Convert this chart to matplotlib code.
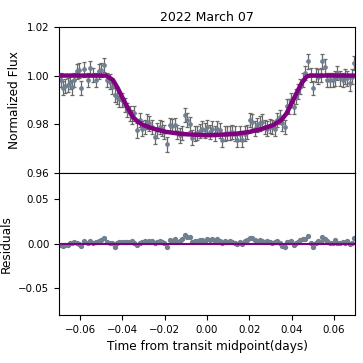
import numpy as np
import matplotlib
matplotlib.use("Agg")
import matplotlib.pyplot as plt

title = "2022 March 07"

time = [-0.0690, -0.0679, -0.0670, -0.0658, -0.0647, -0.0638, -0.0627, -0.0616, -0.0606, -0.0595,
        -0.0580, -0.0564, -0.0551, -0.0537, -0.0524, -0.0512, -0.0501, -0.0485, -0.0474, -0.0461,
        -0.0448, -0.0437, -0.0426, -0.0414, -0.0401, -0.0390, -0.0379, -0.0366, -0.0355, -0.0343,
        -0.0330, -0.0319, -0.0306, -0.0295, -0.0283, -0.0272, -0.0259, -0.0248, -0.0237, -0.0224,
        -0.0212, -0.0201, -0.0189, -0.0177, -0.0164, -0.0153, -0.0141, -0.0129, -0.0117, -0.0106,
        -0.0095, -0.0082, -0.0071, -0.0058, -0.0047, -0.0035, -0.0024, -0.0011, 0.0000, 0.0013,
        0.0024, 0.0036, 0.0047, 0.0060, 0.0073, 0.0084, 0.0095, 0.0107, 0.0118, 0.0131,
        0.0142, 0.0155, 0.0167, 0.0178, 0.0189, 0.0202, 0.0215, 0.0226, 0.0237, 0.0249,
        0.0262, 0.0273, 0.0284, 0.0297, 0.0309, 0.0321, 0.0332, 0.0344, 0.0357, 0.0368,
        0.0379, 0.0388, 0.0399, 0.0411, 0.0420, 0.0431, 0.0442, 0.0455, 0.0463, 0.0478,
        0.0490, 0.0502, 0.0515, 0.0526, 0.0537, 0.0546, 0.0557, 0.0568, 0.0581, 0.0594,
        0.0605, 0.0616, 0.0628, 0.0641, 0.0652, 0.0663, 0.0676, 0.0688, 0.0696]

flux = [0.9982, 0.9948, 0.9957, 0.9961, 0.9975, 0.9952, 0.9982, 1.0017, 1.0021, 0.9948,
        1.0026, 0.9982, 1.0030, 1.0003, 0.9982, 1.0017, 1.0023, 1.0044, 0.9982, 0.9975,
        0.9954, 0.9920, 0.9913, 0.9902, 0.9899, 0.9879, 0.9858, 0.9844, 0.9830, 0.9844,
        0.9775, 0.9817, 0.9782, 0.9789, 0.9810, 0.9803, 0.9789, 0.9748, 0.9775, 0.9789,
        0.9782, 0.9768, 0.9717, 0.9796, 0.9792, 0.9796, 0.9768, 0.9754, 0.9764, 0.9837,
        0.9817, 0.9800, 0.9745, 0.9761, 0.9764, 0.9772, 0.9782, 0.9775, 0.9789, 0.9768,
        0.9782, 0.9761, 0.9782, 0.9775, 0.9734, 0.9761, 0.9764, 0.9764, 0.9768, 0.9761,
        0.9734, 0.9761, 0.9734, 0.9761, 0.9768, 0.9817, 0.9810, 0.9782, 0.9796, 0.9803,
        0.9810, 0.9789, 0.9782, 0.9792, 0.9789, 0.9782, 0.9817, 0.9830, 0.9803, 0.9789,
        0.9874, 0.9872, 0.9899, 0.9872, 0.9913, 0.9934, 0.9954, 0.9982, 1.0010, 1.0058,
        1.0003, 0.9948, 1.0003, 0.9996, 1.0003, 1.0058, 1.0037, 0.9982, 0.9982, 0.9982,
        0.9989, 1.0010, 0.9989, 0.9982, 0.9996, 0.9989, 0.9968, 0.9996, 1.0051]

flux_err = 0.003

residuals = [-0.0015, -0.0020, -0.0012, -0.0018, 0.0005, 0.0010, 0.0020, 0.0015, -0.0005, -0.0025,
             0.0030, 0.0010, 0.0035, 0.0015, 0.0025, 0.0030, 0.0040, 0.0065, 0.0020, 0.0005,
             0.0015, -0.0030, 0.0005, 0.0020, 0.0025, 0.0020, 0.0025, 0.0020, 0.0030, 0.0015,
             -0.0010, 0.0015, 0.0025, 0.0030, 0.0020, 0.0035, 0.0030, 0.0005, 0.0020, 0.0030,
             0.0025, 0.0010, -0.0030, 0.0045, 0.0030, 0.0050, 0.0025, 0.0035, 0.0060, 0.0105,
             0.0080, 0.0075, 0.0020, 0.0030, 0.0035, 0.0040, 0.0045, 0.0030, 0.0050, 0.0040,
             0.0055, 0.0030, 0.0055, 0.0035, 0.0010, 0.0030, 0.0025, 0.0030, 0.0020, 0.0010,
             -0.0005, 0.0025, -0.0005, 0.0030, 0.0045, 0.0065, 0.0070, 0.0040, 0.0035, 0.0040,
             0.0030, 0.0020, 0.0030, 0.0025, 0.0010, 0.0020, 0.0035, 0.0010, -0.0020, -0.0030,
             0.0020, 0.0025, 0.0030, -0.0010, 0.0010, 0.0025, 0.0040, 0.0050, 0.0055, 0.0085,
             0.0015, -0.0030, 0.0010, 0.0030, 0.0025, 0.0080, 0.0060, 0.0030, 0.0010, 0.0015,
             0.0040, 0.0015, 0.0010, 0.0020, 0.0015, 0.0030, -0.0005, 0.0010, 0.0070]

model_time = [-0.070, -0.0477, -0.0445, -0.0422, -0.0398, -0.0374, -0.0351, -0.0327, -0.0303,
              -0.0256, -0.0193, -0.0114, 0.0, 0.0123, 0.0202, 0.0265, 0.0313, 0.0352, 0.0376,
              0.0400, 0.0423, 0.0447, 0.0471, 0.0486, 0.070]
model_flux = [1.0, 1.0, 0.9982, 0.9948, 0.9906, 0.9865, 0.9830, 0.9810, 0.9797,
              0.9782, 0.9768, 0.9759, 0.9754, 0.9759, 0.9768, 0.9782, 0.9796, 0.9817, 0.9844,
              0.9886, 0.9927, 0.9968, 0.9996, 1.0, 1.0]

top_yticks = [0.96, 0.98, 1.00, 1.02]
bot_yticks = [-0.05, 0.00, 0.05]
xticks = [-0.06, -0.04, -0.02, 0.00, 0.02, 0.04, 0.06]

fig = plt.figure(figsize=(3.63, 3.63), dpi=100)
ax1 = fig.add_axes([0.1625, 0.5242, 0.8155, 0.4014])
ax2 = fig.add_axes([0.1625, 0.1322, 0.8155, 0.3920], sharex=ax1)

ax1.errorbar(time, flux, yerr=flux_err, fmt='o', color='slategray', ms=2.4,
             ecolor='dimgray', elinewidth=0.9, capsize=1.6, capthick=0.9, zorder=2)
ax1.plot(model_time, model_flux, color='purple', lw=3.2, zorder=3)
ax1.set_ylim(0.96, 1.02)
ax1.set_yticks(top_yticks)
ax1.set_yticklabels([f"{v:.2f}" for v in top_yticks])
ax1.set_ylabel("Normalized Flux", fontsize=8.7)
ax1.set_title(title, fontsize=9, pad=4)
ax1.tick_params(axis='x', labelbottom=False, length=0)
ax1.tick_params(axis='y', labelsize=7.4)

ax2.plot(time, residuals, 'o', color='slategray', ms=2.8, zorder=2)
ax2.axhline(0, color='purple', lw=1.5, zorder=3)
ax2.set_ylim(-0.08, 0.08)
ax2.set_yticks(bot_yticks)
ax2.set_yticklabels(["\u22120.05", "0.00", "0.05"])
ax2.set_xlim(-0.07, 0.07)
ax2.set_xticks(xticks)
ax2.set_xticklabels([("\u2212" if v < 0 else "") + f"{abs(v):.2f}" for v in xticks])
ax2.set_ylabel("Residuals", fontsize=8.7)
ax2.set_xlabel("Time from transit midpoint(days)", fontsize=8.7)
ax2.tick_params(labelsize=7.4)

fig.savefig("out.png", dpi=100)
